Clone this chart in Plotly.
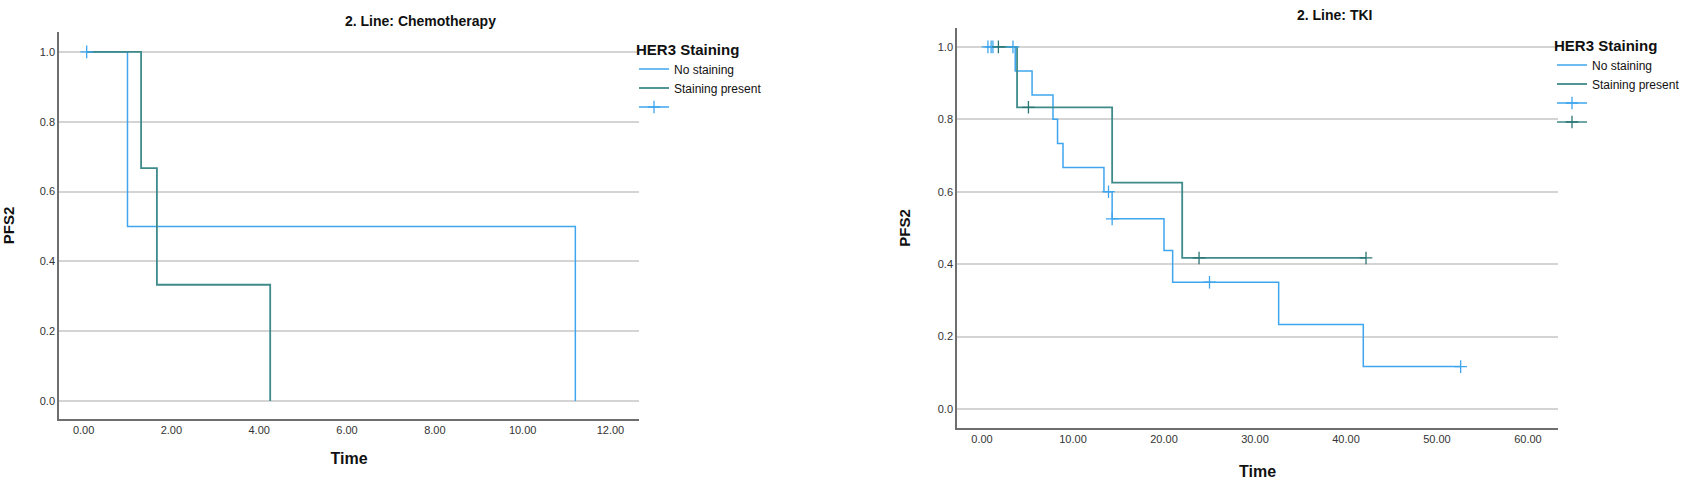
import plotly.graph_objects as go

# ---------------- data ----------------
# Left panel: 2. Line: Chemotherapy
chemo_no_t = [0.07, 1.0, 11.2]
chemo_no_s = [1.0, 0.5, 0.0]
chemo_st_t = [0.07, 1.31, 1.67, 4.25]
chemo_st_s = [1.0, 0.667, 0.333, 0.0]
chemo_no_cens_t = [0.07]
chemo_no_cens_s = [1.0]

# Right panel: 2. Line: TKI
tki_no_t = [0.5, 3.65, 5.5, 7.8, 8.3, 8.9, 13.4, 14.3, 20.0, 20.95, 32.6, 41.9, 52.6]
tki_no_s = [1.0, 0.933, 0.867, 0.8, 0.733, 0.667, 0.6, 0.525, 0.4375, 0.35, 0.233, 0.117, 0.117]
tki_st_t = [1.2, 3.85, 14.3, 22.0, 42.2]
tki_st_s = [1.0, 0.833, 0.625, 0.417, 0.417]
tki_no_cens_t = [0.65, 1.0, 1.2, 3.4, 13.9, 14.3, 25.0, 52.6]
tki_no_cens_s = [1.0, 1.0, 1.0, 1.0, 0.6, 0.525, 0.35, 0.117]
tki_st_cens_t = [1.8, 5.1, 23.85, 42.2]
tki_st_cens_s = [1.0, 0.833, 0.417, 0.417]

y_ticks = [0.0, 0.2, 0.4, 0.6, 0.8, 1.0]
y_tick_text = ["0.0", "0.2", "0.4", "0.6", "0.8", "1.0"]
chemo_x_ticks = [0, 2, 4, 6, 8, 10, 12]
tki_x_ticks = [0, 10, 20, 30, 40, 50, 60]
series_names = ["No staining", "Staining present"]

# ---------------- style ----------------
BLUE = "#3fa6ee"
TEAL = "#3f8a8a"
TEAL_DARK = "#2b7474"
GRID = "#d4d4d4"
AXIS = "#6e6e6e"
FONT = "Liberation Sans Narrow, Liberation Sans, Arial, sans-serif"
W, H = 1703, 485


def gapped(vals):
    out = []
    for v in vals:
        out += [v, None]
    return out[:-1]


fig = go.Figure()

# left panel
fig.add_trace(go.Scatter(x=chemo_no_t, y=chemo_no_s, mode="lines", line=dict(color=BLUE, width=1.5, shape="hv"),
                         name=series_names[0], xaxis="x", yaxis="y", legend="legend"))
fig.add_trace(go.Scatter(x=chemo_st_t, y=chemo_st_s, mode="lines", line=dict(color=TEAL, width=1.8, shape="hv"),
                         name=series_names[1], xaxis="x", yaxis="y", legend="legend"))
fig.add_trace(go.Scatter(x=gapped(chemo_no_cens_t), y=gapped(chemo_no_cens_s), mode="lines+markers",
                         line=dict(color=BLUE, width=1.5),
                         marker=dict(symbol="cross-thin", size=9, line=dict(color=BLUE, width=1.3)),
                         name=" ", xaxis="x", yaxis="y", legend="legend"))

# right panel
fig.add_trace(go.Scatter(x=tki_no_t, y=tki_no_s, mode="lines", line=dict(color=BLUE, width=1.5, shape="hv"),
                         name=series_names[0], xaxis="x2", yaxis="y2", legend="legend2"))
fig.add_trace(go.Scatter(x=tki_st_t, y=tki_st_s, mode="lines", line=dict(color=TEAL, width=1.8, shape="hv"),
                         name=series_names[1], xaxis="x2", yaxis="y2", legend="legend2"))
fig.add_trace(go.Scatter(x=gapped(tki_no_cens_t), y=gapped(tki_no_cens_s), mode="lines+markers",
                         line=dict(color=BLUE, width=1.5),
                         marker=dict(symbol="cross-thin", size=9, line=dict(color=BLUE, width=1.3)),
                         name=" ", xaxis="x2", yaxis="y2", legend="legend2"))
fig.add_trace(go.Scatter(x=gapped(tki_st_cens_t), y=gapped(tki_st_cens_s), mode="lines+markers",
                         line=dict(color=TEAL, width=1.5),
                         marker=dict(symbol="cross-thin", size=9, line=dict(color=TEAL_DARK, width=1.3)),
                         name="  ", xaxis="x2", yaxis="y2", legend="legend2"))

axis_common = dict(showline=True, linecolor=AXIS, linewidth=1.5, ticks="", zeroline=False,
                   tickfont=dict(family=FONT, size=11, color="#333333"), mirror=False)

fig.update_layout(
    width=W, height=H, margin=dict(l=0, r=0, t=0, b=0),
    plot_bgcolor="white", paper_bgcolor="white",
    font=dict(family=FONT, color="#111111"),
    xaxis=dict(domain=[59 / W, 639 / W], range=[-0.56, 12.65], tickvals=chemo_x_ticks,
               ticktext=[f"{v:.2f}" for v in chemo_x_ticks], showgrid=False,
               title=dict(text="<b>Time</b>", font=dict(size=16), standoff=18), anchor="y", **axis_common),
    yaxis=dict(domain=[1 - 419 / H, 1 - 32 / H], range=[-0.0516, 1.057], tickvals=y_ticks, ticktext=y_tick_text,
               showgrid=True, gridcolor=GRID, gridwidth=1.6,
               title=dict(text="<b>PFS2</b>", font=dict(size=15), standoff=22), anchor="x", **axis_common),
    xaxis2=dict(domain=[957 / W, 1558 / W], range=[-2.75, 63.3], tickvals=tki_x_ticks,
                ticktext=[f"{v:.2f}" for v in tki_x_ticks], showgrid=False,
                title=dict(text="<b>Time</b>", font=dict(size=16), standoff=22), anchor="y2", **axis_common),
    yaxis2=dict(domain=[1 - 428 / H, 1 - 28 / H], range=[-0.0525, 1.052], tickvals=y_ticks, ticktext=y_tick_text,
                showgrid=True, gridcolor=GRID, gridwidth=1.6,
                title=dict(text="<b>PFS2</b>", font=dict(size=15), standoff=24), anchor="x2", **axis_common),
    legend=dict(x=634 / W, y=1 - 35 / H, xanchor="left", yanchor="top", bgcolor="rgba(0,0,0,0)",
                title=dict(text="<b>HER3 Staining</b>", font=dict(size=15)), font=dict(size=12),
                tracegroupgap=0, itemwidth=30),
    legend2=dict(x=1552 / W, y=1 - 31 / H, xanchor="left", yanchor="top", bgcolor="rgba(0,0,0,0)",
                 title=dict(text="<b>HER3 Staining</b>", font=dict(size=15)), font=dict(size=12),
                 tracegroupgap=0, itemwidth=30),
    annotations=[
        dict(text="<b>2. Line: Chemotherapy</b>", x=420 / W, y=1 - 21 / H, xref="paper", yref="paper",
             showarrow=False, font=dict(size=14), xanchor="center", yanchor="middle"),
        dict(text="<b>2. Line: TKI</b>", x=1334 / W, y=1 - 15 / H, xref="paper", yref="paper",
             showarrow=False, font=dict(size=14), xanchor="center", yanchor="middle"),
    ],
)

fig.write_html("out.html", config={"displayModeBar": False},
               post_script="document.body.style.margin='0px';")
